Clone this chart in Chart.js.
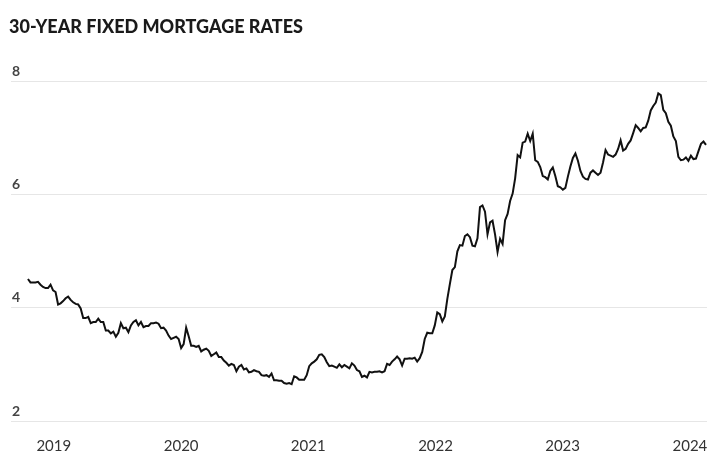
<!DOCTYPE html>
<html>
<head>
<meta charset="utf-8">
<script src="https://cdn.jsdelivr.net/npm/chart.js@4"></script>
<style>
  html, body { margin: 0; padding: 0; background: #fff; }
  #wrap { width: 716px; height: 471px; position: relative; }
</style>
</head>
<body>
<div id="wrap"><canvas id="chart"></canvas></div>
<script>
// weekly 30-year fixed rate (%), first week of Jan 2019 to early Mar 2024
const rates2019 = [4.51, 4.45, 4.45, 4.45, 4.46, 4.41, 4.37, 4.35, 4.35, 4.41, 4.31, 4.28, 4.06,
    4.08, 4.12, 4.17, 4.20, 4.14, 4.10, 4.07, 4.06, 3.99, 3.82, 3.82, 3.84, 3.73,
    3.75, 3.75, 3.81, 3.75, 3.75, 3.60, 3.60, 3.55, 3.58, 3.49, 3.56, 3.73, 3.64,
    3.65, 3.57, 3.69, 3.75, 3.78, 3.69, 3.75, 3.66, 3.68, 3.68, 3.73, 3.73, 3.74];
const rates2020 = [3.72, 3.64, 3.65, 3.60, 3.51, 3.45, 3.47, 3.49, 3.45, 3.29, 3.36, 3.65, 3.50,
    3.33, 3.33, 3.31, 3.33, 3.23, 3.26, 3.28, 3.24, 3.15, 3.18, 3.21, 3.13, 3.13,
    3.07, 3.03, 2.98, 3.01, 2.99, 2.88, 2.96, 2.99, 2.91, 2.93, 2.86, 2.87, 2.90,
    2.88, 2.87, 2.81, 2.80, 2.81, 2.78, 2.84, 2.72, 2.72, 2.71, 2.71, 2.67, 2.66, 2.67];
const rates2021 = [2.65, 2.79, 2.77, 2.73, 2.73, 2.73, 2.81, 2.97, 3.02, 3.05, 3.09, 3.17,
    3.18, 3.13, 3.04, 2.97, 2.98, 2.96, 2.94, 3.00, 2.95, 2.99, 2.96, 2.93, 3.02,
    2.98, 2.90, 2.88, 2.78, 2.80, 2.77, 2.87, 2.86, 2.87, 2.87, 2.88, 2.86, 2.88, 3.01,
    2.99, 3.05, 3.09, 3.14, 3.09, 2.98, 3.10, 3.10, 3.11, 3.10, 3.12, 3.05, 3.11];
const rates2022 = [3.22, 3.45, 3.56, 3.55, 3.55, 3.69, 3.92, 3.89, 3.76, 3.85, 4.16, 4.42, 4.67,
    4.72, 5.00, 5.11, 5.10, 5.27, 5.30, 5.25, 5.10, 5.09, 5.23, 5.78, 5.81, 5.70,
    5.30, 5.51, 5.54, 5.30, 4.99, 5.22, 5.13, 5.55, 5.66, 5.89, 6.02, 6.29, 6.70,
    6.66, 6.92, 6.94, 7.08, 6.95, 7.08, 6.61, 6.58, 6.49, 6.33, 6.31, 6.27, 6.42];
const rates2023 = [6.48, 6.33, 6.15, 6.13, 6.09, 6.12, 6.32, 6.50, 6.65, 6.73, 6.60, 6.42, 6.32,
    6.28, 6.27, 6.39, 6.43, 6.39, 6.35, 6.39, 6.57, 6.79, 6.71, 6.69, 6.67, 6.71,
    6.81, 6.96, 6.78, 6.81, 6.90, 6.96, 7.09, 7.23, 7.18, 7.12, 7.18, 7.19, 7.31,
    7.49, 7.57, 7.63, 7.79, 7.76, 7.50, 7.44, 7.29, 7.22, 7.03, 6.95, 6.67, 6.61];
const rates2024 = [6.62, 6.66, 6.60, 6.69, 6.63, 6.64, 6.77, 6.90, 6.94, 6.88];

// x axis: year labels and the week number they sit under
const yearLabels = ['2019', '2020', '2021', '2022', '2023', '2024'];
const yearLabelWeeks = [10.3, 61, 111.6, 162.3, 212.9, 263.6];
const yTicks = [2, 4, 6, 8];

const rates = [].concat(rates2019, rates2020, rates2021, rates2022, rates2023, rates2024);
const points = rates.map((r, i) => ({x: i, y: r}));

new Chart(document.getElementById('chart'), {
    type: 'line',
    data: {
        datasets: [{
            data: points,
            borderColor: '#111',
            borderWidth: 2,
            pointRadius: 0,
            tension: 0,
            fill: false
        }]
    },
    options: {
        responsive: true,
        maintainAspectRatio: false,
        animation: false,
        layout: {padding: {left: 9, right: 9, top: 0, bottom: 8}},
        plugins: {
            legend: {display: false},
            tooltip: {enabled: false},
            title: {
                display: true,
                text: '30-YEAR FIXED MORTGAGE RATES',
                align: 'start',
                color: '#1a1a1a',
                font: {family: 'Lato', size: 18, weight: 900},
                padding: {top: 16, bottom: 44}
            }
        },
        scales: {
            x: {
                type: 'linear',
                min: -6.75,
                max: 270.4,
                grid: {display: false},
                border: {display: false},
                afterBuildTicks: (scale) => {
                    scale.ticks = yearLabelWeeks.map(v => ({value: v}));
                },
                ticks: {
                    autoSkip: false,
                    maxRotation: 0,
                    padding: 8,
                    color: '#333',
                    font: {family: 'Lato', size: 15},
                    callback: (v, i) => yearLabels[i]
                }
            },
            y: {
                min: 2,
                max: 8,
                grid: {color: '#e6e6e6', lineWidth: 1, drawTicks: false},
                border: {display: false},
                afterBuildTicks: (scale) => {
                    scale.ticks = yTicks.map(v => ({value: v}));
                },
                ticks: {
                    mirror: true,
                    padding: 1,
                    labelOffset: -10,
                    color: '#444',
                    font: {family: 'Lato', size: 14, weight: 'bold'}
                }
            }
        }
    }
});
</script>
</body>
</html>
